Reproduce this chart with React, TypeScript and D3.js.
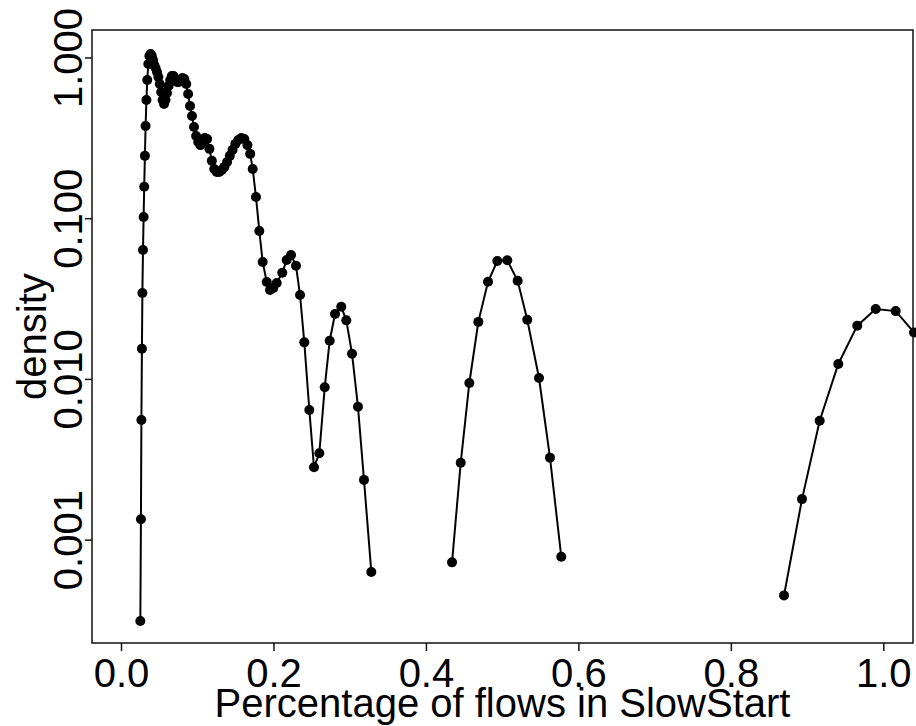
import React from 'react';
import * as d3 from 'd3';

// fraction of flows in slow start (x) and density (y), one pair of arrays per segment
const pctA = [
  0.0247, 0.0255, 0.0261, 0.0268, 0.0274, 0.0282, 0.0290, 0.0298, 0.0307, 0.0316,
  0.0327, 0.0338, 0.0352, 0.0366, 0.0382, 0.0398, 0.0413, 0.0430, 0.0447, 0.0466,
  0.0484, 0.0502, 0.0521, 0.0539, 0.0558, 0.0577, 0.0597, 0.0618, 0.0639, 0.0660,
  0.0682, 0.0704, 0.0728, 0.0752, 0.0775, 0.0799, 0.0824, 0.0849, 0.0874, 0.0899,
  0.0925, 0.0951, 0.0979, 0.1006, 0.1035, 0.1064, 0.1093, 0.1123, 0.1153, 0.1185,
  0.1216, 0.1249, 0.1282, 0.1316, 0.1350, 0.1385, 0.1421, 0.1457, 0.1494, 0.1532,
  0.1572, 0.1611, 0.1652, 0.1688, 0.1721, 0.1764, 0.1808, 0.1852, 0.1905, 0.1948,
  0.1991, 0.2036, 0.2109, 0.2167, 0.2224, 0.2289, 0.2342, 0.2398, 0.2464, 0.2525,
  0.2595, 0.2666, 0.2731, 0.2801, 0.2883, 0.2949, 0.3024, 0.3102, 0.3181, 0.3277
];
const densA = [
  0.000314, 0.00135, 0.00559, 0.0155, 0.0345, 0.0639, 0.1025, 0.158, 0.246, 0.377,
  0.548, 0.730, 0.918, 1.029, 1.059, 1.029, 0.972, 0.905, 0.866, 0.818,
  0.762, 0.689, 0.614, 0.548, 0.517, 0.548, 0.606, 0.669, 0.730, 0.773,
  0.773, 0.740, 0.709, 0.709, 0.730, 0.751, 0.740, 0.689, 0.597, 0.503,
  0.436, 0.372, 0.327, 0.300, 0.287, 0.300, 0.318, 0.313, 0.272, 0.229,
  0.204, 0.195, 0.195, 0.201, 0.210, 0.225, 0.246, 0.268, 0.292, 0.309,
  0.318, 0.313, 0.287, 0.253, 0.204, 0.1365, 0.0839, 0.0538, 0.0404, 0.0360,
  0.0371, 0.0398, 0.0461, 0.0553, 0.0594, 0.0510, 0.0335, 0.0170, 0.00645, 0.00284,
  0.00347, 0.00893, 0.0174, 0.0255, 0.0283, 0.0233, 0.01445, 0.00676, 0.00237, 0.000633
];

const pctB = [0.4336, 0.4450, 0.4563, 0.4681, 0.4808, 0.4930, 0.5061, 0.5197, 0.5323, 0.5477, 0.5621, 0.5769];
const densB = [0.000727, 0.00303, 0.0095, 0.0228, 0.0405, 0.0545, 0.0551, 0.0411, 0.0235, 0.0102, 0.00326, 0.000788];

const pctC = [0.8691, 0.8927, 0.9159, 0.9403, 0.9652, 0.9894, 1.0156, 1.0396, 1.0645];
const densC = [0.000453, 0.00180, 0.00553, 0.01247, 0.0216, 0.0274, 0.0266, 0.0196, 0.0128];

const xTicks = [0, 0.2, 0.4, 0.6, 0.8, 1.0];
const yTicks = [0.001, 0.01, 0.1, 1];

const xTitle = 'Percentage of flows in SlowStart';
const yTitle = 'density';

const W = 916;
const H = 726;
const FONT = '"Liberation Sans", Arial, Helvetica, sans-serif';

export default function App() {
  const left = 92, right = 913, top = 30, bottom = 643;

  const x = d3.scaleLinear().domain([-0.0387, 1.0383]).range([left, right]);
  const y = d3.scaleLog().domain([2.29e-4, 1.493]).range([bottom, top]);

  const segments = [
    d3.zip(pctA, densA),
    d3.zip(pctB, densB),
    d3.zip(pctC, densC)
  ];

  const line = d3.line<number[]>()
    .x(d => x(d[0]))
    .y(d => y(d[1]));

  const fmtX = d3.format('.1f');
  const fmtY = d3.format('.3f');

  return (
    <svg width={W} height={H}
      style={{ position: 'absolute', left: 0, top: 0, background: '#fff' }}
      fontFamily={FONT}>
      <rect x={0} y={0} width={W} height={H} fill="#fff" />

      {segments.map((seg, i) => (
        <g key={i}>
          <path d={line(seg) || ''} fill="none" stroke="#000" strokeWidth={2} />
          {seg.map((d, j) => (
            <circle key={j} cx={x(d[0])} cy={y(d[1])} r={5} fill="#000" />
          ))}
        </g>
      ))}

      <rect x={left} y={top} width={right - left} height={bottom - top}
        fill="none" stroke="#111" strokeWidth={1.5} />

      {xTicks.map(t => (
        <g key={t} transform={`translate(${x(t)},0)`}>
          <line y1={bottom} y2={bottom + 8} stroke="#111" strokeWidth={1.5} />
          <text y={687} textAnchor="middle" fontSize={40} fill="#000">{fmtX(t)}</text>
        </g>
      ))}

      {yTicks.map(t => (
        <g key={t} transform={`translate(0,${y(t)})`}>
          <line x1={left - 7} x2={left} stroke="#111" strokeWidth={1.5} />
          <text transform="translate(82,0) rotate(-90)" textAnchor="middle"
            fontSize={40} fill="#000">{fmtY(t)}</text>
        </g>
      ))}

      <text x={(left + right) / 2} y={717} textAnchor="middle" fontSize={40} fill="#000">
        {xTitle}
      </text>
      <text transform={`translate(46,${(top + bottom) / 2}) rotate(-90)`}
        textAnchor="middle" fontSize={40} fill="#000">{yTitle}</text>
    </svg>
  );
}
